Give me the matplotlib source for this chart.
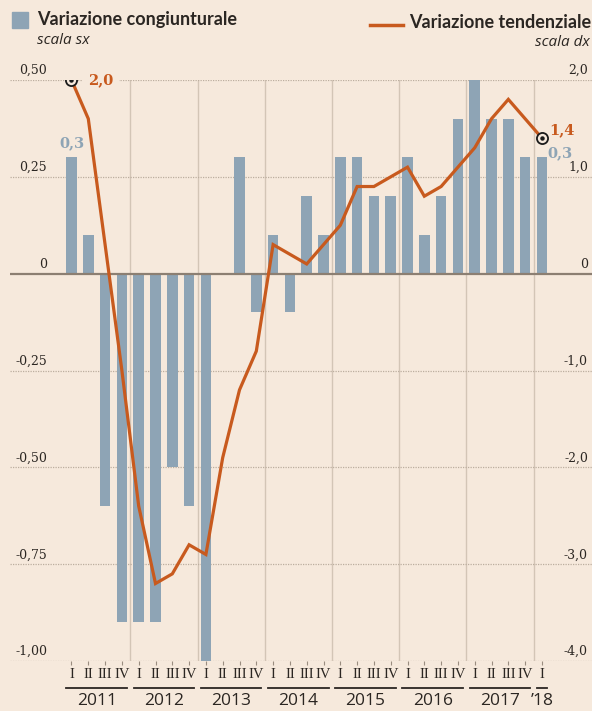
"""Variazione congiunturale / tendenziale - barre trimestrali e linea su doppia scala."""

import matplotlib

matplotlib.use("Agg")

import matplotlib.pyplot as plt
import matplotlib.transforms as mtransforms
from matplotlib.patches import Rectangle
from matplotlib.lines import Line2D

# --- data -------------------------------------------------------------------
quarters = ["I", "II", "III", "IV"] * 7 + ["I"]
years = ["2011", "2012", "2013", "2014", "2015", "2016", "2017", "\u201918"]
year_sizes = [4, 4, 4, 4, 4, 4, 4, 1]

congiunturale = [
    0.3, 0.1, -0.6, -0.9,
    -0.9, -0.9, -0.5, -0.6,
    -1.0, 0.0, 0.3, -0.1,
    0.1, -0.1, 0.2, 0.1,
    0.3, 0.3, 0.2, 0.2,
    0.3, 0.1, 0.2, 0.4,
    0.5, 0.4, 0.4, 0.3,
    0.3,
]
tendenziale = [
    2.0, 1.6, 0.3, -1.0,
    -2.4, -3.2, -3.1, -2.8,
    -2.9, -1.9, -1.2, -0.8,
    0.3, 0.2, 0.1, 0.3,
    0.5, 0.9, 0.9, 1.0,
    1.1, 0.8, 0.9, 1.1,
    1.3, 1.6, 1.8, 1.6,
    1.4,
]

left_ticks = [0.5, 0.25, 0.0, -0.25, -0.5, -0.75, -1.0]
left_labels = ["0,50", "0,25", "0", "-0,25", "-0,50", "-0,75", "-1,00"]
right_ticks = [2.0, 1.0, 0.0, -1.0, -2.0, -3.0, -4.0]
right_labels = ["2,0", "1,0", "0", "-1,0", "-2,0", "-3,0", "-4,0"]

# --- style ------------------------------------------------------------------
BG = "#f6e9dc"
BAR = "#8ea4b5"
LINE = "#c85a1e"
DARK = "#2b2622"
GRID = "#bcae9f"
ZERO = "#8c7f72"
SEP = "#d3c5b6"
HEAD = ["Lato", "DejaVu Sans"]

W, H = 592, 711
fig = plt.figure(figsize=(W / 100, H / 100), dpi=100, facecolor=BG)

# axes spans pixel x 10..592, y 80..661
ax = fig.add_axes([10 / W, 50 / H, 582 / W, 581 / H])
ax.set_facecolor(BG)
x = list(range(len(quarters)))
ax.set_xlim(-3.66, 30.98)
ax.set_ylim(-1.0, 0.5)
for s in ax.spines.values():
    s.set_visible(False)

# grid lines (dotted), zero line solid
for v in left_ticks:
    if v == 0:
        continue
    ax.axhline(v, color=GRID, lw=0.9, ls=(0, (1, 1)), zorder=1)
ax.axhline(0, color=ZERO, lw=1.6, zorder=4)

# year separators
start = 0
for n in year_sizes[:-1]:
    start += n
    ax.axvline(start - 0.5, color=SEP, lw=1.0, zorder=0.5)

ax.bar(x, congiunturale, width=0.63, color=BAR, zorder=3)

ax.set_yticks([])
ax.set_xticks(x)
ax.set_xticklabels(quarters, family="Liberation Serif", fontsize=10.5, color=DARK)
ax.tick_params(axis="x", length=3, width=0.8, color="#9a8d80", pad=2)

ytrans = ax.get_yaxis_transform()
for v, lab in zip(left_ticks, left_labels):
    ax.annotate(lab, (0.0636, v), xycoords=ytrans, xytext=(0, 2),
                textcoords="offset points", ha="right", va="bottom",
                family="DejaVu Serif", fontsize=9, color=DARK)

# right scale
ax2 = ax.twinx()
ax2.set_ylim(-4.0, 2.0)
ax2.set_yticks([])
for s in ax2.spines.values():
    s.set_visible(False)
ytrans2 = ax2.get_yaxis_transform()
for v, lab in zip(right_ticks, right_labels):
    ax2.annotate(lab, (0.993, v), xycoords=ytrans2, xytext=(0, 2),
                 textcoords="offset points", ha="right", va="bottom",
                 family="DejaVu Serif", fontsize=9, color=DARK)

ax2.plot(x, tendenziale, color=LINE, lw=2.3, zorder=5, solid_joinstyle="miter")
for i in (0, len(x) - 1):
    ax2.plot(x[i], tendenziale[i], marker="o", ms=8, mfc=BG, mec="#1a1a1a",
             mew=1.3, zorder=6)
    ax2.plot(x[i], tendenziale[i], marker="o", ms=2.2, mfc="#1a1a1a",
             mec="#1a1a1a", zorder=7)

ax2.annotate("2,0", (x[0], tendenziale[0]), xytext=(12, 0),
             textcoords="offset points", ha="left", va="center",
             family="DejaVu Serif", fontweight="bold", fontsize=10.5, color=LINE,
             bbox=dict(boxstyle="square,pad=0.35", fc=BG, ec="none"), zorder=6)
ax2.annotate("1,4", (x[-1], tendenziale[-1]), xytext=(5, 6),
             textcoords="offset points", ha="left", va="center",
             family="DejaVu Serif", fontweight="bold", fontsize=10.5, color=LINE,
             zorder=6)
ax.annotate("0,3", (x[0], congiunturale[0]), xytext=(0, 10),
            textcoords="offset points", ha="center", va="center",
            family="DejaVu Serif", fontweight="bold", fontsize=10.5, color=BAR,
            zorder=6)
ax2.annotate("0,3", (x[-1], tendenziale[-1]), xytext=(13, -11),
             textcoords="offset points", ha="center", va="center",
             family="DejaVu Serif", fontweight="bold", fontsize=10.5, color=BAR,
             zorder=6)

# year underlines and labels below the axis
btrans = mtransforms.blended_transform_factory(ax.transData, ax.transAxes)
start = 0
for yr, n in zip(years, year_sizes):
    x0, x1 = start - 0.3, start + n - 1 + 0.3
    ax.add_line(Line2D([x0, x1], [-0.0465, -0.0465], transform=btrans,
                       color=DARK, lw=1.3, clip_on=False))
    ax.text((x0 + x1) / 2, -0.069, yr, transform=btrans, ha="center",
            va="center", family="Open Sans", fontsize=12.5, color=DARK)
    start += n

# legend
fig.patches.append(Rectangle((12 / W, 1 - 28 / H), 16 / W, 16 / H,
                             transform=fig.transFigure, color=BAR))
fig.text(37 / W, 1 - 20 / H, "Variazione congiunturale", ha="left",
         va="center", family=HEAD, fontweight="bold", fontsize=13, color=DARK)
fig.text(37 / W, 1 - 41 / H, "scala sx", ha="left", va="center",
         family="Open Sans", style="italic", fontsize=11, color=DARK)
fig.lines.append(Line2D([370 / W, 403 / W], [1 - 25 / H, 1 - 25 / H],
                        transform=fig.transFigure, color=LINE, lw=2.5))
fig.text(591 / W, 1 - 22 / H, "Variazione tendenziale", ha="right",
         va="center", family=HEAD, fontweight="bold", fontsize=13, color=DARK)
fig.text(590 / W, 1 - 43 / H, "scala dx", ha="right", va="center",
         family="Open Sans", style="italic", fontsize=11, color=DARK)

fig.savefig("out.png", dpi=100, facecolor=BG)
plt.close(fig)
